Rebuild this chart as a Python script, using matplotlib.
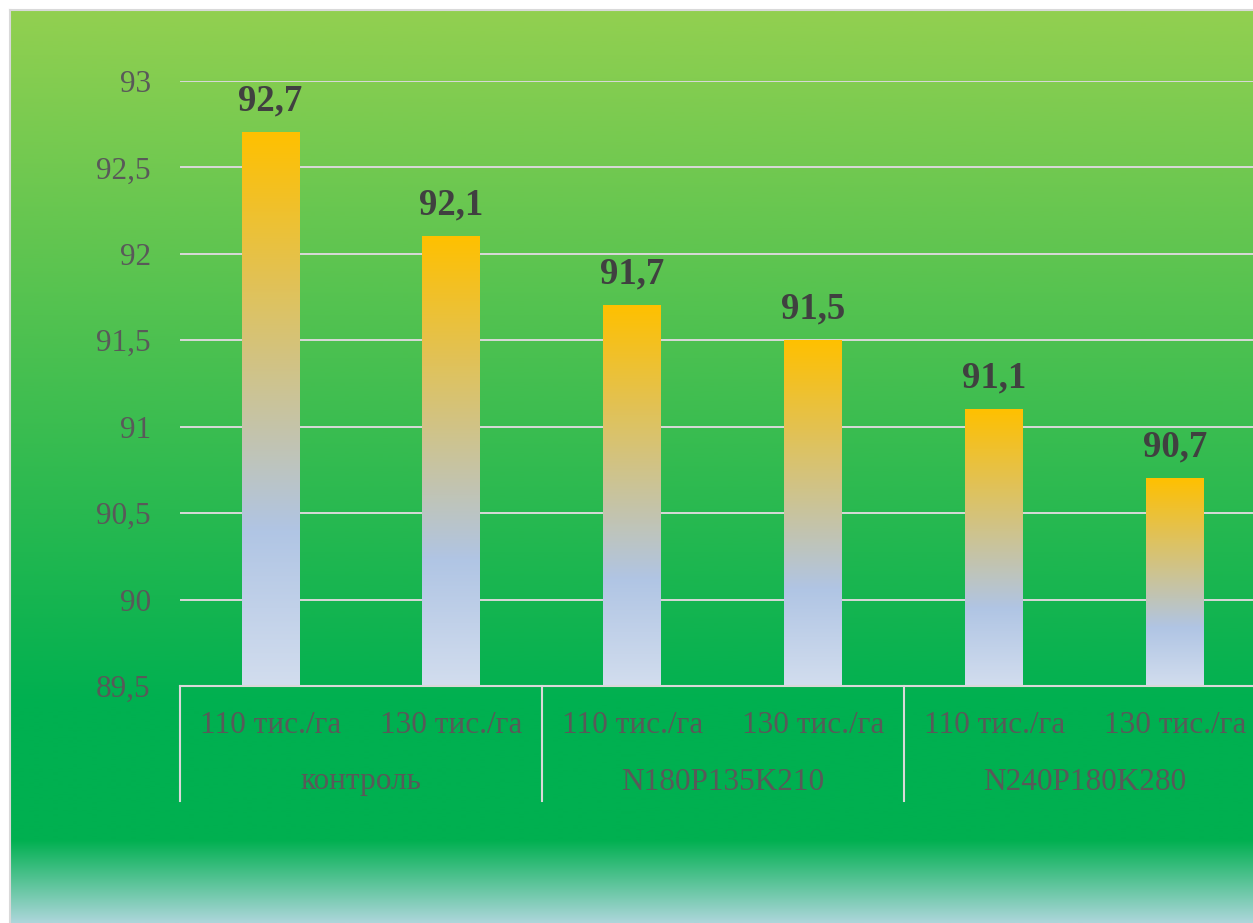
import numpy as np
import matplotlib
matplotlib.use("Agg")
import matplotlib.pyplot as plt
from matplotlib.transforms import blended_transform_factory

# === data ===
groups = ["контроль", "N180P135K210", "N240P180K280"]
densities = ["110 тис./га", "130 тис./га"]
values = [92.7, 92.1, 91.7, 91.5, 91.1, 90.7]
tick_labels = [d for g in groups for d in densities]
value_labels = [f"{v:.1f}".replace(".", ",") for v in values]
y_ticks = [89.5, 90, 90.5, 91, 91.5, 92, 92.5, 93]
y_tick_labels = [f"{t:g}".replace(".", ",") for t in y_ticks]

plt.rcParams["font.family"] = ["Liberation Serif", "DejaVu Serif"]

W, H = 1253, 923
fig = plt.figure(figsize=(W / 100, H / 100), dpi=100)

# --- background panel (vertical green gradient) ---
bg = fig.add_axes([0, 0, 1, 1], zorder=0)
bg.set_xlim(0, W)
bg.set_ylim(H, 0)
bg.axis("off")

def vgrad(stops, n=400):
    pos = np.array([s[0] for s in stops])
    cols = np.array([s[1] for s in stops], dtype=float) / 255
    t = np.linspace(0, 1, n)
    arr = np.stack([np.interp(t, pos, cols[:, i]) for i in range(3)], axis=1)
    return arr[:, None, :]

bg_stops = [(0.0, (146, 208, 80)), (0.76, (0, 176, 80)),
            (0.91, (0, 176, 80)), (1.0, (172, 214, 218))]
bg.imshow(vgrad(bg_stops), extent=(10, W, H, 11), aspect="auto", interpolation="bilinear")
bg.plot([10, 10], [H, 10], color="#D9D9D9", lw=1.5)
bg.plot([10, W], [10, 10], color="#D9D9D9", lw=1.5)

# --- main chart ---
left, right, top, bottom = 180, 1265.5, 81, 686
ax = fig.add_axes([left / W, (H - bottom) / H, (right - left) / W, (bottom - top) / H], zorder=1)
ax.patch.set_alpha(0)
x = np.arange(len(values))

for sp in ax.spines.values():
    sp.set_visible(False)
ax.set_yticks(y_ticks)
ax.set_yticklabels(y_tick_labels)
ax.grid(axis="y", color="#D9D9D9", lw=1.4, zorder=1)
ax.set_axisbelow(True)
ax.tick_params(axis="y", length=0, pad=21, labelsize=22.5, labelcolor="#595959")
ax.set_xticks(x)
ax.set_xticklabels(tick_labels)
ax.tick_params(axis="x", length=0, pad=18, labelsize=22.5, labelcolor="#595959")

bar_w = 0.32
bars = ax.bar(x, np.array(values) - 89.5, bottom=89.5, width=bar_w, color="none", zorder=2)
bar_stops = [(0.0, (255, 192, 0)), (0.72, (176, 197, 228)), (1.0, (210, 221, 238))]
grad = vgrad(bar_stops)
for b, lab in zip(bars, value_labels):
    x0, w, h = b.get_x(), b.get_width(), b.get_height()
    ax.imshow(grad, extent=(x0, x0 + w, 89.5, 89.5 + h), aspect="auto",
              interpolation="bilinear", zorder=2)
    ax.annotate(lab, (x0 + w / 2, 89.5 + h), xytext=(0, 10), textcoords="offset points",
                ha="center", va="bottom", fontsize=26.5, fontweight="bold", color="#404040")
ax.set_xlim(-0.5, len(values) - 0.5)
ax.set_ylim(89.5, 93)

# bottom axis line and group separators
ax.axhline(89.5, color="#D9D9D9", lw=1.5, zorder=3, clip_on=False)
trans = blended_transform_factory(ax.transData, ax.transAxes)
sep_bottom = (bottom - 801) / (bottom - top)
for s in np.arange(len(groups) + 1) * 2 - 0.5:
    ax.plot([s, s], [0, sep_bottom], color="#D9D9D9", lw=1.5, transform=trans, clip_on=False)
grp_y = (bottom - 782) / (bottom - top)
for i, g in enumerate(groups):
    ax.text(2 * i + 0.5, grp_y, g, transform=trans, ha="center", va="center",
            fontsize=22.5, color="#595959")

fig.savefig("out.png", dpi=100)
